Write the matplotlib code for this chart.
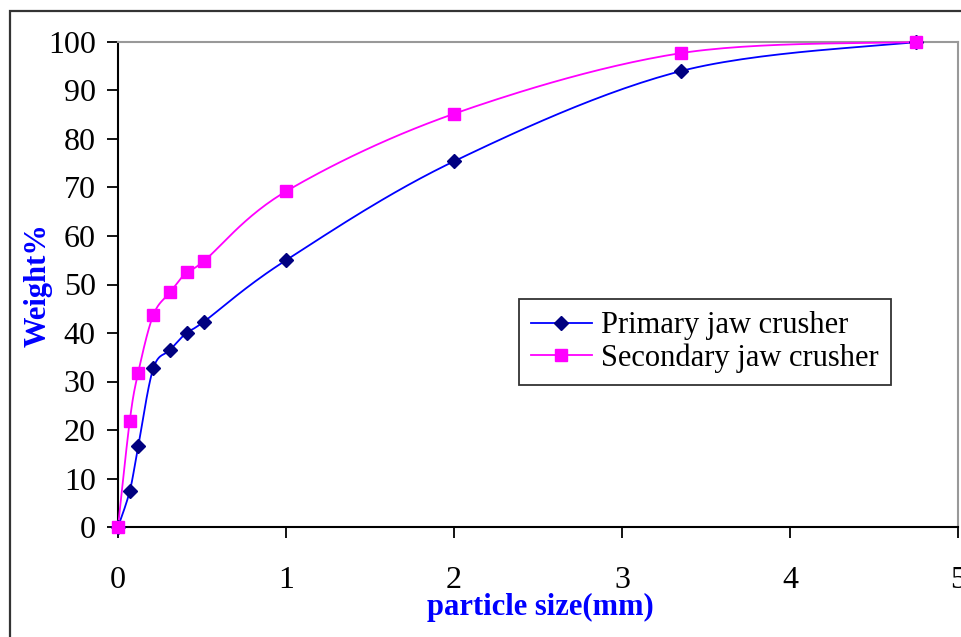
import numpy as np
import matplotlib
matplotlib.use("Agg")
import matplotlib.pyplot as plt
from matplotlib.patches import Rectangle

# ---- data ----
size_mm = [0, 0.07, 0.12, 0.21, 0.31, 0.41, 0.51, 1.0, 2.0, 3.35, 4.75]
primary = [0, 7.4, 16.6, 32.7, 36.5, 40.1, 42.3, 55.0, 75.4, 94.0, 100]
secondary = [0, 21.9, 31.8, 43.7, 48.4, 52.6, 54.8, 69.2, 85.2, 97.7, 100]
series_names = ["Primary jaw crusher", "Secondary jaw crusher"]
x_ticks = [0, 1, 2, 3, 4, 5]
y_ticks = list(range(0, 101, 10))

plt.rcParams['font.family'] = ['Liberation Serif', 'DejaVu Serif']

fig = plt.figure(figsize=(9.62, 6.37), dpi=100)
ax = fig.add_axes([118/962, 1-527/637, 840/962, 485/637])
ax.set_xlim(0, 5)
ax.set_ylim(0, 100)


def smooth(xs, ys, n=30):
    # Excel-like smoothing: cubic Bezier with Catmull-Rom control points, in display space
    pts = ax.transData.transform(np.column_stack([xs, ys]))
    out = []
    m = len(pts)
    for i in range(m - 1):
        p0 = pts[max(i - 1, 0)]
        p1 = pts[i]
        p2 = pts[i + 1]
        p3 = pts[min(i + 2, m - 1)]
        c1 = p1 + (p2 - p0) / 6.0
        c2 = p2 - (p3 - p1) / 6.0
        t = np.linspace(0, 1, n)[:, None]
        seg = ((1 - t) ** 3) * p1 + 3 * ((1 - t) ** 2) * t * c1 + 3 * (1 - t) * t ** 2 * c2 + t ** 3 * p2
        out.append(seg if i == 0 else seg[1:])
    out = np.vstack(out)
    d = ax.transData.inverted().transform(out)
    return d[:, 0], d[:, 1]


blue = '#0000FF'
navy = '#000080'
mag = '#FF00FF'

sx, sy = smooth(size_mm, primary)
ax.plot(sx, sy, color=blue, lw=1.3, clip_on=False, zorder=3)
ax.plot(size_mm, primary, ls='none', marker='D', ms=7.5, color=navy, mec=navy, clip_on=False, zorder=4)
sx, sy = smooth(size_mm, secondary)
ax.plot(sx, sy, color=mag, lw=1.3, clip_on=False, zorder=3)
ax.plot(size_mm, secondary, ls='none', marker='s', ms=8, color=mag, mec=mag, clip_on=False, zorder=5)

# legend handles
h1, = ax.plot([], [], color=blue, lw=1.3, marker='D', ms=7.5, mfc=navy, mec=navy)
h2, = ax.plot([], [], color=mag, lw=1.3, marker='s', ms=8, mfc=mag, mec=mag)
leg = ax.legend([h1, h2], series_names, loc='upper left', bbox_to_anchor=(0.477, 0.47),
                fontsize=22, frameon=True, fancybox=False, shadow=False,
                handlelength=2.0, handletextpad=0.3, borderpad=0.4, labelspacing=0.1,
                borderaxespad=0)
leg.get_frame().set_edgecolor('black')
leg.get_frame().set_linewidth(1.3)

ax.set_xticks(x_ticks)
ax.set_yticks(y_ticks)
ax.tick_params(direction='out', length=8, width=1.3, labelsize=23, colors='black')
ax.tick_params(axis='x', pad=20)
ax.tick_params(axis='y', pad=8)
for s in ['left', 'bottom']:
    ax.spines[s].set_color('black')
    ax.spines[s].set_linewidth(1.5)
for s in ['top', 'right']:
    ax.spines[s].set_color('#999999')
    ax.spines[s].set_linewidth(1.5)

fig.text(540/962, 1-607/637, 'particle size(mm)', color=blue, fontweight='bold',
         fontsize=22, ha='center', va='center')
fig.text(38/962, 1-285/637, 'Weight%', color=blue, fontweight='bold',
         fontsize=22, ha='center', va='center', rotation=90)

# outer frame (only left and top visible)
fig.patches.append(Rectangle((10/962, -0.2), 1.3, 1.2 - 11/637, transform=fig.transFigure,
                             fill=False, edgecolor='#333333', lw=1.6, clip_on=False))

fig.savefig('out.png', dpi=100)
